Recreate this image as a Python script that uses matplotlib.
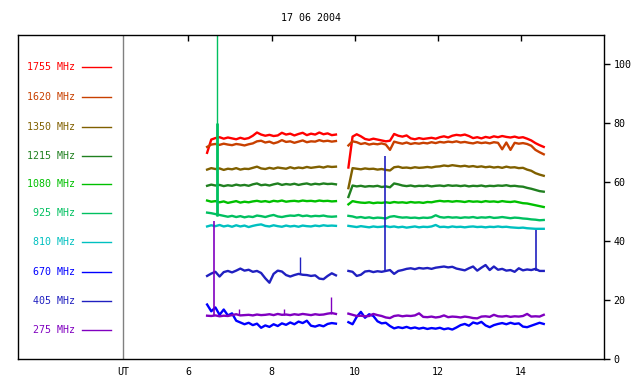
import numpy as np
import matplotlib
matplotlib.use("Agg")
import matplotlib.pyplot as plt

# time grids (UT hours) for the two observing blocks
t1 = np.linspace(6.45, 9.55, 32)
t2 = np.linspace(9.85, 14.55, 48)

freqs = ["1755 MHz", "1620 MHz", "1350 MHz", "1215 MHz", "1080 MHz",
         "925 MHz", "810 MHz", "670 MHz", "405 MHz", "275 MHz"]
colors = ["#ff0000", "#c84000", "#806000", "#208020", "#00c000",
          "#00c060", "#00c0c0", "#0000ff", "#2020c0", "#8000c0"]
legend_y = [99.0, 88.8, 78.9, 69.0, 59.3, 49.5, 39.6, 29.5, 19.7, 9.8]

f1755_a = [70, 74.5, 75, 75.3, 74.8, 75.2, 74.9, 74.6, 75.1, 74.7, 75.0, 75.8, 76.9, 76.2, 75.8, 76.1,
           75.7, 75.9, 76.8, 76.2, 76.5, 75.9, 76.4, 76.8, 76.0, 76.5, 76.2, 76.9, 76.3, 76.6, 76.0, 76.2]
f1755_b = [65, 75.5, 76.3, 75.6, 74.7, 74.4, 74.8, 74.5, 74.2, 73.9, 74.1, 76.4, 75.8, 75.5, 75.9, 74.9,
           74.6, 75.0, 74.7, 74.9, 75.1, 74.8, 75.3, 75.6, 75.2, 75.8, 76.1, 75.9, 76.2, 75.7, 75.0, 75.3,
           74.9, 75.4, 75.1, 75.6, 75.3, 75.7, 75.4, 75.2, 75.5, 75.1, 75.3, 74.8, 74.2, 73.3, 72.6, 72.0]

f1620_a = [72, 72.8, 73.0, 72.7, 73.1, 72.8, 72.6, 73.0, 72.8, 72.5, 72.9, 73.2, 73.9, 74.1, 73.5, 73.8,
           73.2, 73.6, 74.3, 73.7, 73.9, 73.4, 73.8, 74.2, 73.6, 73.9, 73.8, 74.3, 73.9, 74.1, 73.8, 74.0]
f1620_b = [72.5, 73.9, 73.6, 73.0, 73.3, 72.8, 73.1, 72.9, 73.2, 72.8, 71.0, 73.8, 73.4, 73.1, 73.5, 73.0,
           73.3, 73.1, 73.4, 73.2, 73.6, 73.3, 73.7, 73.5, 73.8, 73.6, 73.9, 73.5, 73.7, 73.4, 73.2, 73.6,
           73.3, 73.5, 73.2, 73.6, 73.4, 71.2, 73.5, 71.0, 73.4, 73.1, 73.3, 73.0, 72.4, 71.0, 70.2, 69.5]

f1350_a = [64.3, 64.8, 64.5, 64.7, 64.2, 64.6, 64.4, 64.8, 64.3, 64.6, 64.5, 64.9, 65.3, 64.7, 64.5, 64.9,
           64.6, 65.0, 64.8, 64.6, 65.1, 64.7, 65.0, 64.8, 65.2, 64.9, 65.1, 65.3, 65.0, 65.4, 65.2, 65.3]
f1350_b = [58.0, 64.8, 64.6, 64.4, 64.7, 64.5, 64.6, 64.3, 64.5, 64.2, 64.0, 65.1, 65.3, 64.9, 65.0, 64.8,
           65.1, 64.9, 65.0, 65.2, 65.0, 65.3, 65.4, 65.7, 65.5, 65.8, 65.6, 65.4, 65.6, 65.3, 65.5, 65.2,
           65.4, 65.1, 65.3, 65.0, 65.2, 64.9, 65.3, 65.0, 65.1, 64.8, 64.9, 64.3, 63.9, 63.1, 62.6, 62.2]

f1215_a = [58.8, 59.2, 58.9, 59.1, 58.7, 59.0, 58.8, 59.2, 58.9, 59.1, 58.8, 59.3, 59.6, 59.0, 59.2, 58.9,
           59.3, 59.6, 59.1, 59.4, 59.2, 59.5, 59.1, 59.4, 59.6, 59.2, 59.5, 59.3, 59.6, 59.4, 59.5, 59.3]
f1215_b = [55.0, 58.9, 58.6, 58.8, 58.5, 58.7, 58.6, 58.8, 58.4, 58.6, 58.3, 59.6, 59.3, 58.9, 58.7, 58.9,
           58.6, 58.8, 58.7, 58.9, 58.6, 58.8, 58.9, 58.7, 59.0, 58.8, 58.9, 58.7, 58.9, 58.6, 58.8, 58.7,
           58.9, 58.6, 58.8, 58.7, 58.9, 58.8, 59.0, 58.7, 58.8, 58.6, 58.5, 58.1, 57.8, 57.4, 57.0, 56.8]

f1080_a = [53.8, 53.4, 53.6, 53.2, 53.5, 53.0, 53.3, 53.6, 53.1, 53.4, 53.2, 53.5, 53.7, 53.4, 53.6, 53.3,
           53.7, 53.5, 53.8, 53.4, 53.6, 53.7, 53.5, 53.8, 53.6, 53.7, 53.5, 53.8, 53.6, 53.7, 53.5, 53.6]
f1080_b = [52.5, 53.6, 53.3, 53.1, 53.0, 53.2, 52.9, 53.1, 53.0, 53.2, 53.0, 53.3, 53.1, 53.2, 53.0, 53.3,
           53.1, 53.2, 53.0, 53.3, 53.2, 53.5, 53.7, 53.5, 53.6, 53.4, 53.6, 53.5, 53.3, 53.6, 53.4, 53.5,
           53.3, 53.6, 53.4, 53.5, 53.3, 53.6, 53.4, 53.3, 53.5, 53.2, 52.9, 52.8, 52.5, 52.2, 51.9, 51.6]

f925_a = [49.7, 49.5, 49.2, 48.9, 48.6, 48.3, 48.6, 48.2, 48.5, 48.1, 48.4, 48.2, 48.7, 48.5, 48.2, 48.6,
          48.9, 48.4, 48.2, 48.5, 48.7, 48.6, 48.9, 48.5, 48.7, 48.4, 48.6, 48.5, 48.7, 48.4, 48.3, 48.4]
f925_b = [48.6, 48.4, 48.0, 48.2, 47.9, 48.1, 47.8, 48.0, 47.9, 47.7, 48.3, 48.5, 48.2, 48.0, 48.1, 47.9,
          48.0, 47.8, 48.0, 47.9, 48.1, 48.8, 48.2, 48.0, 48.2, 48.0, 48.1, 47.9, 48.1, 48.0, 48.2, 47.9,
          48.1, 48.0, 48.2, 47.9, 48.0, 48.2, 48.0, 47.8, 48.0, 47.9, 47.7, 47.6, 47.4, 47.3, 47.1, 47.2]

f810_a = [45.0, 45.4, 45.1, 45.5, 45.0, 45.3, 44.9, 45.4, 45.0, 45.3, 44.8, 45.2, 45.5, 45.7, 45.2, 45.0,
          45.4, 45.1, 44.9, 45.3, 45.0, 45.2, 44.9, 45.3, 45.1, 45.0, 45.3, 45.1, 45.4, 45.2, 45.3, 45.2]
f810_b = [45.2, 45.0, 44.8, 45.1, 44.9, 44.7, 45.0, 44.8, 44.9, 45.1, 44.8, 45.0, 44.7, 44.9, 44.6, 44.8,
          45.0, 44.7, 44.9, 44.8, 45.0, 45.5, 44.8, 44.9, 44.7, 45.0, 44.8, 44.9, 44.7, 44.9, 45.0, 44.8,
          44.9, 44.7, 44.9, 44.8, 45.0, 44.8, 44.9, 44.7, 44.6, 44.5, 44.6, 44.4, 44.3, 44.2, 44.2, 44.2]

# the 670 MHz trace is the noisy one near 12, 405 MHz sits near 30
f670_a = [18.5, 16.2, 17.5, 15.0, 16.8, 14.8, 15.5, 13.0, 12.4, 11.8, 12.3, 11.5, 12.0, 10.6, 11.4, 10.9,
          11.8, 11.2, 12.1, 11.6, 12.4, 11.8, 12.7, 12.2, 13.0, 11.3, 11.0, 11.5, 11.1, 11.9, 12.2, 12.0]
f670_b = [12.5, 11.8, 14.3, 16.0, 14.0, 15.2, 14.6, 12.8, 12.1, 12.3, 11.2, 10.4, 10.8, 10.5, 10.9, 10.4,
          10.7, 10.3, 10.6, 10.2, 10.5, 10.3, 10.6, 10.1, 10.4, 10.0, 10.7, 11.5, 11.9, 11.3, 12.4, 12.0,
          12.6, 11.4, 10.8, 11.5, 11.9, 12.2, 11.8, 12.3, 11.9, 12.1, 11.0, 10.8, 11.3, 11.8, 12.3, 11.9]

f405_a = [28.2, 29.0, 29.6, 28.0, 29.5, 29.9, 29.4, 30.0, 30.7, 30.0, 30.3, 29.6, 29.9, 29.2, 27.4, 25.9,
          28.9, 30.0, 29.7, 28.5, 28.0, 28.5, 28.9, 28.6, 28.5, 28.2, 28.4, 27.3, 27.1, 28.2, 29.1, 28.4]
f405_b = [29.9, 29.6, 28.2, 28.6, 29.7, 29.9, 29.5, 29.8, 29.6, 29.9, 30.2, 28.9, 29.9, 30.2, 30.6, 30.8,
          30.5, 30.9, 30.7, 30.9, 30.6, 31.0, 31.2, 31.4, 31.1, 31.3, 30.7, 30.4, 30.1, 30.8, 31.4, 30.0,
          31.0, 31.9, 30.2, 31.4, 30.3, 30.6, 30.0, 30.2, 29.6, 30.8, 30.1, 30.4, 30.2, 30.6, 29.9, 29.9]

f275_a = [14.7, 14.6, 14.8, 14.5, 14.7, 14.6, 14.9, 15.2, 14.8, 14.9, 15.0, 14.8, 15.1, 14.9, 15.0, 15.2,
          14.9, 15.3, 15.0, 15.1, 14.9, 15.2, 15.0, 15.3, 15.1, 14.9, 15.2, 15.0, 15.1, 15.4, 15.6, 15.3]
f275_b = [15.4, 15.0, 14.6, 14.7, 14.5, 14.6, 15.3, 14.9, 14.6, 14.1, 13.9, 14.6, 14.8, 14.5, 14.7, 14.6,
          14.8, 15.5, 14.3, 14.2, 14.4, 14.1, 14.3, 14.8, 14.2, 14.4, 14.3, 14.1, 14.4, 14.2, 13.9, 13.8,
          14.4, 14.5, 14.3, 15.0, 14.5, 14.4, 14.6, 14.3, 14.5, 14.4, 14.6, 15.3, 14.4, 14.5, 14.4, 15.0]

seg_a = [f1755_a, f1620_a, f1350_a, f1215_a, f1080_a, f925_a, f810_a, f670_a, f405_a, f275_a]
seg_b = [f1755_b, f1620_b, f1350_b, f1215_b, f1080_b, f925_b, f810_b, f670_b, f405_b, f275_b]

# isolated spikes: time, base, top, series index
spike_t = [6.69, 6.69, 6.62, 7.22, 8.30, 9.43, 8.69, 10.72, 14.37]
spike_lo = [48.6, 48.6, 14.7, 14.9, 15.0, 15.3, 29.0, 29.8, 30.0]
spike_hi = [115, 80.0, 46.9, 17.0, 17.0, 21.0, 34.7, 69.0, 43.8]
spike_s = [5, 5, 9, 9, 9, 9, 8, 8, 8]
spike_w = [1.0, 2.0, 1.2, 1.0, 1.0, 1.0, 1.0, 1.2, 1.2]

plt.rcParams['font.family'] = ['DejaVu Sans Mono']
fs = 7.2

fig = plt.figure(figsize=(6.4, 3.84), dpi=100)
ax = fig.add_axes([18 / 640, 25 / 384, 586 / 640, 324 / 384])

for i in range(len(freqs)):
    ax.plot(t1, seg_a[i], color=colors[i], lw=1.7)
    ax.plot(t2, seg_b[i], color=colors[i], lw=1.7)

for k in range(len(spike_t)):
    ax.vlines(spike_t[k], spike_lo[k], spike_hi[k], color=colors[spike_s[k]], lw=spike_w[k])

# legend column on the left
for i in range(len(freqs)):
    ax.text(3.27, legend_y[i], freqs[i], color=colors[i], fontsize=fs, ha='right', va='center')
    ax.plot([3.44, 4.14], [legend_y[i], legend_y[i]], color=colors[i], lw=1)

ax.axvline(4.43, color='#808080', lw=1)

ax.set_xlim(1.9, 16.0)
ax.set_ylim(0, 110)

ax.yaxis.tick_right()
ax.set_yticks([0, 20, 40, 60, 80, 100])
ax.tick_params(axis='y', direction='out', length=4, width=1, labelsize=fs, pad=3)

ax.set_xticks([4.43, 6, 8, 10, 12, 14])
ax.set_xticklabels(["UT", "6", "8", "10", "12", "14"])
ax.tick_params(axis='x', bottom=False, top=True, direction='in', length=4, width=1,
               labelbottom=True, labeltop=False, labelsize=fs, pad=6)
# no top tick at the UT mark
ax.xaxis.get_major_ticks()[0].tick2line.set_visible(False)

for s in ax.spines.values():
    s.set_linewidth(1)
    s.set_color('black')

ax.set_title("17 06 2004", fontsize=fs, pad=10)

fig.savefig("out.png", dpi=100)
